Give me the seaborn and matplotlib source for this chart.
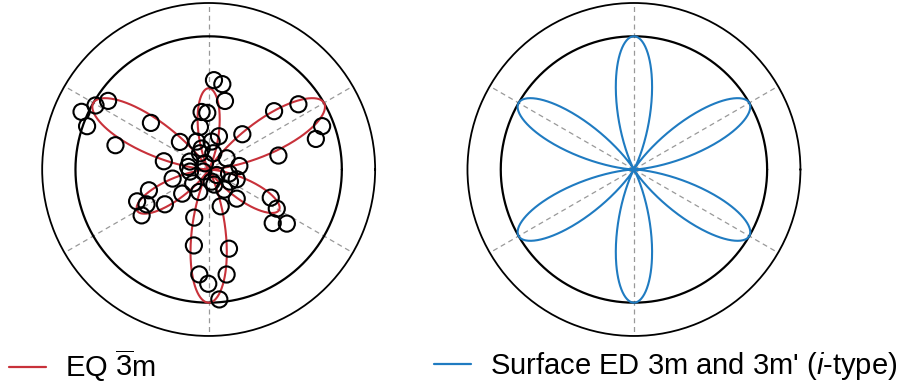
import numpy as np
import seaborn as sns
import matplotlib.pyplot as plt
from matplotlib.lines import Line2D

sns.set_style("white")
plt.rcParams['font.family'] = ['Liberation Sans', 'DejaVu Sans']
plt.rcParams['mathtext.fontset'] = 'custom'
plt.rcParams['mathtext.rm'] = 'Liberation Sans'
plt.rcParams['mathtext.it'] = 'Liberation Sans:italic'
plt.rcParams['text.color'] = 'black'

# petal directions (deg) and normalised petal heights
petal_angles = [30, 90, 150, 210, 270, 330]
eq_amplitudes = [1.00, 0.61, 1.00, 0.62, 1.00, 0.61]
surface_amplitudes = [1.00, 1.00, 1.00, 1.00, 1.00, 1.00]

# measured points: polarisation angle (deg) and normalised intensity
point_angles = [86.6, 80.9, 76.6, 97.0, 91.4, 101.6, 72.8, 46.3, 41.7, 36.0,
                20.9, 15.9, 11.3, 6.5, 145.7, 150.5, 155.6, 160.4, 141.1, 165.4,
                136.2, 169.6, 173.0, 108.5, 194.2, 222.4, 247.3, 199.2, 204.0, 209.3,
                218.5, 214.4, 253.3, 288.1, 313.9, 307.8, 340.7, 348.6, 335.6, 330.1,
                320.1, 325.3, 259.0, 284.4, 264.9, 279.7, 269.8, 274.7, 290.3,
                113.3, 118.2, 74.1, 157.1, 120.8, 31.9, 186.4, 201.0, 325.5, 330.4,
                283.9, 221.9, 83.9]
point_r = [0.672, 0.649, 0.529, 0.435, 0.425, 0.326, 0.261, 0.366, 0.658, 0.833,
           0.912, 0.837, 0.534, 0.232, 0.914, 0.976, 1.048, 0.969, 0.557, 0.723,
           0.299, 0.342, 0.155, 0.166, 0.279, 0.269, 0.183, 0.475, 0.588, 0.535,
           0.420, 0.610, 0.377, 0.291, 0.304, 0.191, 0.223, 0.156, 0.512, 0.590,
           0.627, 0.714, 0.581, 0.614, 0.791, 0.800, 0.858, 0.979, 0.121,
           0.228, 0.138, 0.127, 0.153, 0.054, 0.159, 0.141, 0.044, 0.073, 0.184,
           0.094, 0.156, 0.211]

red = '#C8313A'
blue = '#1F7BC1'


def rose(amps):
    # cos^2(3*phi) lobes around each petal direction
    deg = np.linspace(0, 360, 1441)
    idx = np.round((deg - petal_angles[0]) / 60).astype(int) % 6
    delta = np.deg2rad(deg - np.array(petal_angles)[idx])
    r = np.array(amps)[idx] * np.cos(3 * delta) ** 2
    return np.deg2rad(deg), r


def setup(ax):
    theta = np.linspace(0, 2 * np.pi, 721)
    ax.plot(theta, np.ones_like(theta), color='black', lw=1.6, zorder=1)
    ax.set_ylim(0, 1.25)
    ax.set_xticks(np.deg2rad(petal_angles))
    ax.set_xticklabels([])
    ax.set_yticks([])
    ax.tick_params(axis='both', length=0)
    ax.xaxis.grid(True, ls=(0, (4, 3)), color='0.6', lw=0.9)
    ax.yaxis.grid(False)
    ax.spines['polar'].set_color('black')
    ax.spines['polar'].set_linewidth(1.3)
    ax.set_xlabel('')
    ax.set_ylabel('')


fig = plt.figure(figsize=(9.07, 3.92), dpi=100)
ax1 = fig.add_axes([0.0465, 0.1429, 0.3671, 0.8495], projection='polar')
ax2 = fig.add_axes([0.5154, 0.1429, 0.3671, 0.8495], projection='polar')

th, r = rose(eq_amplitudes)
sns.lineplot(x=th, y=r, ax=ax1, color=red, lw=1.5, sort=False, estimator=None, zorder=3)
sns.scatterplot(x=np.deg2rad(point_angles), y=point_r, ax=ax1, s=135, marker='o',
                facecolor='none', edgecolor='black', linewidth=1.5, zorder=4)
setup(ax1)

th, r = rose(surface_amplitudes)
sns.lineplot(x=th, y=r, ax=ax2, color=blue, lw=1.5, sort=False, estimator=None, zorder=3)
setup(ax2)

fig.legend(handles=[Line2D([], [], color=red, lw=1.6)], labels=[r'EQ $\overline{\mathrm{3}}$m'],
           loc='center left', bbox_to_anchor=(9 / 907, 1 - 366 / 392), frameon=False,
           fontsize=21, handlelength=1.27, handletextpad=0.65, borderpad=0, borderaxespad=0)
fig.legend(handles=[Line2D([], [], color=blue, lw=1.6)],
           labels=[r"Surface ED 3m and 3m' ($\mathit{i}$-type)"],
           loc='center left', bbox_to_anchor=(434 / 907, 1 - 366 / 392), frameon=False,
           fontsize=21, handlelength=1.27, handletextpad=0.65, borderpad=0, borderaxespad=0)

fig.savefig('out.png', dpi=100)
